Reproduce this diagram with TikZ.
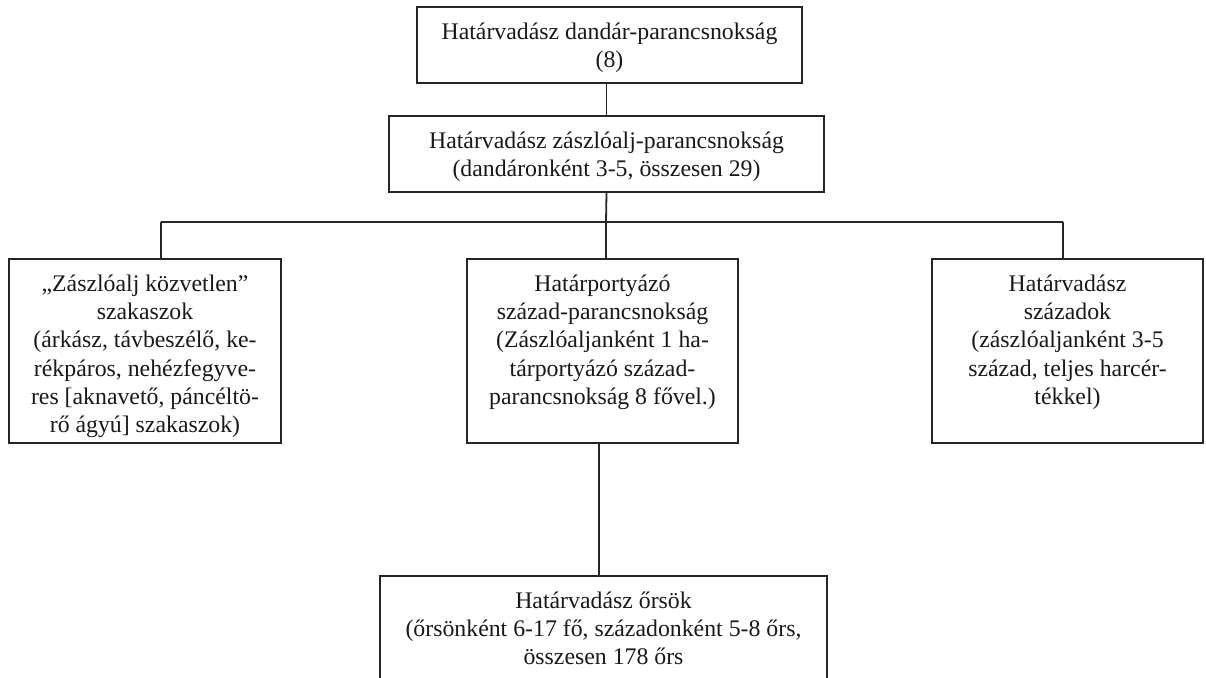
\documentclass[tikz,border=0pt]{standalone}
\usepackage{fontspec}
\setmainfont{Liberation Serif}
\begin{document}
\begin{tikzpicture}[x=1pt,y=-1pt,
  box/.style={draw=black!85,line width=1.8pt,minimum width=#1,inner sep=0pt},
  lbl/.style={anchor=north,inner sep=0pt,align=center,text=black!90,
    font=\fontsize{23.8}{28.3}\selectfont},
  wire/.style={draw=black!85,line width=1.8pt}]
\useasboundingbox (0,0) rectangle (1206,677);
\clip (0,0) rectangle (1206,677);
% boxes
\node[box=385pt,minimum height=76pt] (bde) at (609.5,45) {};
\node[box=435pt,minimum height=76pt] (zl) at (606.5,154) {};
\node[box=272pt,minimum height=184pt] (kozv) at (145,351) {};
\node[box=271pt,minimum height=184pt] (hpsz) at (602.5,351) {};
\node[box=271pt,minimum height=184pt] (hvsz) at (1067.5,351) {};
\node[box=447pt,minimum height=140pt] (ors) at (603.5,646) {};
% texts
\node[lbl] (tbde) at ([yshift=-13.2pt]bde.north) {\strut Határvadász dandár-parancsnokság\\(8)};
\node[lbl] (tzl) at ([yshift=-13.2pt]zl.north) {\strut Határvadász zászlóalj-parancsnokság\\(dandáronként 3-5, összesen 29)};
\node[lbl] (tkozv) at ([yshift=-13.2pt]kozv.north) {\strut „Zászlóalj közvetlen”\\szakaszok\\(árkász, távbeszélő, ke-\\rékpáros, nehézfegyve-\\res [aknavető, páncéltö-\\rő ágyú] szakaszok)};
\node[lbl] (thpsz) at ([yshift=-13.2pt]hpsz.north) {\strut Határportyázó\\század-parancsnokság\\(Zászlóaljanként 1 ha-\\tárportyázó század-\\parancsnokság 8 fővel.)};
\node[lbl] (thvsz) at ([yshift=-13.2pt]hvsz.north) {\strut Határvadász\\századok\\(zászlóaljanként 3-5\\század, teljes harcér-\\tékkel)};
\node[lbl] (tors) at ([yshift=-13.2pt]ors.north) {\strut Határvadász őrsök\\(őrsönként 6-17 fő, századonként 5-8 őrs,\\összesen 178 őrs};
% bus coordinates
\coordinate (bL) at (161,222);
\coordinate (bM) at (606,222);
\coordinate (bR) at (1063,222);
\coordinate (oM) at (599,443);
% connectors
\draw[wire] (zl.north |- bde.south) -- (zl.north);
\draw[wire] (zl.south) -- (bM);
\draw[wire] (bL) -- (bR);
\draw[wire] (bL) -- (bL |- kozv.north);
\draw[wire] (bM) -- (bM |- hpsz.north);
\draw[wire] (bR) -- (bR |- hvsz.north);
\draw[wire] (oM |- hpsz.south) -- (oM |- ors.north);
\end{tikzpicture}
\end{document}
